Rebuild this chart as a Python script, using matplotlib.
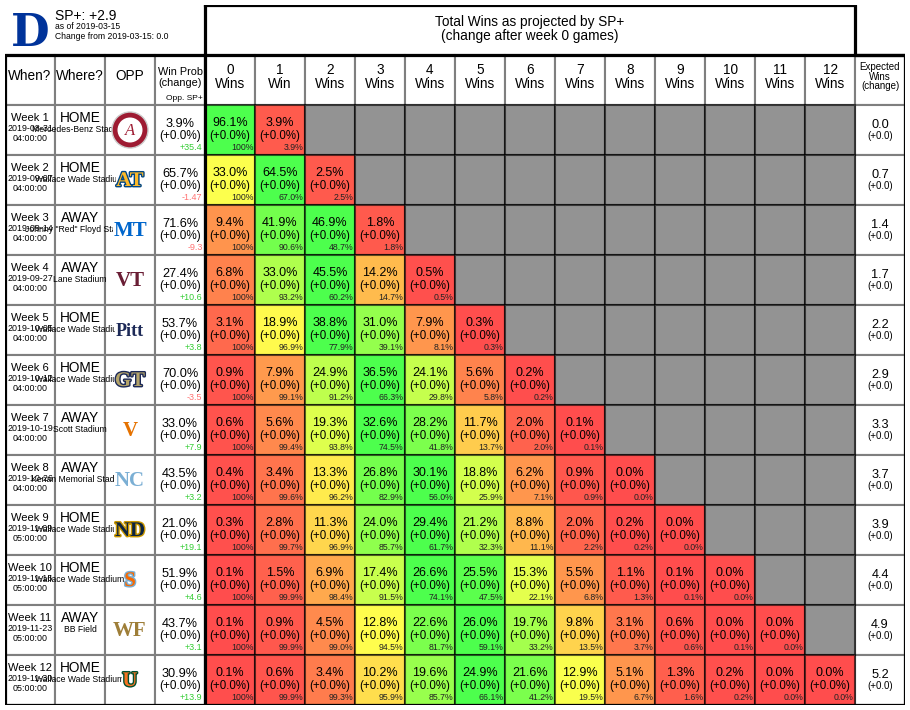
import matplotlib.pyplot as plt
import matplotlib.patheffects as pe
from matplotlib.colors import LinearSegmentedColormap
from matplotlib.patches import Rectangle, Circle

plt.rcParams["font.family"] = ["Liberation Sans", "DejaVu Sans"]

# ---- data ----
WEEKS = [f"Week {i}" for i in range(1, 13)]
DATES = ["2019-08-31", "2019-09-07", "2019-09-14", "2019-09-27", "2019-10-05", "2019-10-12",
         "2019-10-19", "2019-10-26", "2019-11-09", "2019-11-16", "2019-11-23", "2019-11-30"]
TIMES = ["04:00:00"] * 8 + ["05:00:00"] * 4
WHERE = ["HOME", "HOME", "AWAY", "AWAY", "HOME", "HOME",
         "AWAY", "AWAY", "HOME", "HOME", "AWAY", "HOME"]
STADIUMS = ["Mercedes-Benz Stadium", "Wallace Wade Stadium", "Johnny \"Red\" Floyd Stadium",
            "Lane Stadium", "Wallace Wade Stadium", "Wallace Wade Stadium", "Scott Stadium",
            "Kenan Memorial Stadium", "Wallace Wade Stadium", "Wallace Wade Stadium",
            "BB Field", "Wallace Wade Stadium"]
OPP_MARK = ["A", "AT", "MT", "VT", "Pitt", "GT", "V", "NC", "ND", "S", "WF", "U"]
OPP_COLOR = ["#9e1b32", "#fdb927", "#0066cc", "#6a1e35", "#1c2957", "#b3a369",
             "#e57200", "#7bafd4", "#0c2340", "#f76900", "#9e7e38", "#f47321"]
OPP_EDGE = [None, "#004684", None, None, None, "#1c2957",
            None, None, "#c99700", "#7bafd4", None, "#005030"]
WIN_PROB = [3.9, 65.7, 71.6, 27.4, 53.7, 70.0, 33.0, 43.5, 21.0, 51.9, 43.7, 30.9]
OPP_SP = ["+35.4", "-1.47", "-9.3", "+10.6", "+3.8", "-3.5",
          "+7.9", "+3.2", "+19.1", "+4.6", "+3.1", "+13.9"]

WIN_DIST = [
    [96.1, 3.9],
    [33.0, 64.5, 2.5],
    [9.4, 41.9, 46.9, 1.8],
    [6.8, 33.0, 45.5, 14.2, 0.5],
    [3.1, 18.9, 38.8, 31.0, 7.9, 0.3],
    [0.9, 7.9, 24.9, 36.5, 24.1, 5.6, 0.2],
    [0.6, 5.6, 19.3, 32.6, 28.2, 11.7, 2.0, 0.1],
    [0.4, 3.4, 13.3, 26.8, 30.1, 18.8, 6.2, 0.9, 0.0],
    [0.3, 2.8, 11.3, 24.0, 29.4, 21.2, 8.8, 2.0, 0.2, 0.0],
    [0.1, 1.5, 6.9, 17.4, 26.6, 25.5, 15.3, 5.5, 1.1, 0.1, 0.0],
    [0.1, 0.9, 4.5, 12.8, 22.6, 26.0, 19.7, 9.8, 3.1, 0.6, 0.0, 0.0],
    [0.1, 0.6, 3.4, 10.2, 19.6, 24.9, 21.6, 12.9, 5.1, 1.3, 0.2, 0.0, 0.0],
]
AT_LEAST = [
    ["100%", "3.9%"],
    ["100%", "67.0%", "2.5%"],
    ["100%", "90.6%", "48.7%", "1.8%"],
    ["100%", "93.2%", "60.2%", "14.7%", "0.5%"],
    ["100%", "96.9%", "77.9%", "39.1%", "8.1%", "0.3%"],
    ["100%", "99.1%", "91.2%", "66.3%", "29.8%", "5.8%", "0.2%"],
    ["100%", "99.4%", "93.8%", "74.5%", "41.8%", "13.7%", "2.0%", "0.1%"],
    ["100%", "99.6%", "96.2%", "82.9%", "56.0%", "25.9%", "7.1%", "0.9%", "0.0%"],
    ["100%", "99.7%", "96.9%", "85.7%", "61.7%", "32.3%", "11.1%", "2.2%", "0.2%", "0.0%"],
    ["100%", "99.9%", "98.4%", "91.5%", "74.1%", "47.5%", "22.1%", "6.8%", "1.3%", "0.1%", "0.0%"],
    ["100%", "99.9%", "99.0%", "94.5%", "81.7%", "59.1%", "33.2%", "13.5%", "3.7%", "0.6%",
     "0.1%", "0.0%"],
    ["100%", "99.9%", "99.3%", "95.9%", "85.7%", "66.1%", "41.2%", "19.5%", "6.7%", "1.6%",
     "0.2%", "0.0%", "0.0%"],
]
EXP_WINS = [0.0, 0.7, 1.4, 1.7, 2.2, 2.9, 3.3, 3.7, 3.9, 4.4, 4.9, 5.2]
WIN_HEADERS = ["0\nWins", "1\nWin"] + [f"{k}\nWins" for k in range(2, 13)]
LEFT_HEADERS = ["When?", "Where?", "OPP"]

cmap = LinearSegmentedColormap.from_list("ryg", ["#ff4d4d", "#ffff4d", "#4dff4d"])
GREY_LINE = "#7f7f7f"
DARK_LINE = (0, 0, 0, 0.62)

fig = plt.figure(figsize=(9.1, 7.1), dpi=100)
ax = fig.add_axes([5 / 910, 5 / 710, 900 / 910, 700 / 710])
ax.set_xlim(0, 18)
ax.set_ylim(14, 0)
ax.axis("off")

# header row + left/right white cells with grey grid
for c in range(18):
    ax.add_patch(Rectangle((c, 1), 1, 1, fc="white", ec=GREY_LINE, lw=1.5, zorder=1))
for r in range(12):
    y0 = r + 2
    for c in list(range(4)) + [17]:
        ax.add_patch(Rectangle((c, y0), 1, 1, fc="white", ec=GREY_LINE, lw=1.5, zorder=1))

# win distribution cells
for r, row in enumerate(WIN_DIST):
    y0 = r + 2
    top = max(row)
    for c in range(13):
        x0 = c + 4
        if c < len(row):
            fc = cmap(row[c] / top)
        else:
            fc = "#939393"
        ax.add_patch(Rectangle((x0, y0), 1, 1, fc=fc, ec=DARK_LINE, lw=1.5, zorder=2))
        if c < len(row):
            ax.text(x0 + 0.5, y0 + 0.37, f"{row[c]:.1f}%", ha="center", va="center",
                    fontsize=9, zorder=5)
            ax.text(x0 + 0.5, y0 + 0.61, "(+0.0%)", ha="center", va="center",
                    fontsize=8.3, zorder=5)
            ax.text(x0 + 0.97, y0 + 0.84, AT_LEAST[r][c], ha="right", va="center",
                    fontsize=6.3, color="#222222", zorder=5)

# headers
for c, lab in enumerate(LEFT_HEADERS):
    ax.text(c + 0.5, 1.42, lab, ha="center", va="center", fontsize=9.8)
ax.text(3.5, 1.45, "Win Prob\n(change)", ha="center", va="center", fontsize=7.8,
        linespacing=1.1)
ax.text(3.96, 1.87, "Opp. SP+", ha="right", va="center", fontsize=6)
for c, lab in enumerate(WIN_HEADERS):
    ax.text(c + 4.5, 1.43, lab, ha="center", va="center", fontsize=9.8, linespacing=1.0)
ax.text(17.5, 1.43, "Expected\nWins\n(change)", ha="center", va="center", fontsize=7,
        linespacing=0.95)

# left part of each row
for r in range(12):
    y0 = r + 2
    ax.text(0.5, y0 + 0.26, WEEKS[r], ha="center", va="center", fontsize=8)
    ax.text(0.5, y0 + 0.47, DATES[r], ha="center", va="center", fontsize=6.4)
    ax.text(0.5, y0 + 0.67, TIMES[r], ha="center", va="center", fontsize=6.4)
    ax.text(1.5, y0 + 0.25, WHERE[r], ha="center", va="center", fontsize=9.8)
    ax.text(1.5, y0 + 0.48, STADIUMS[r], ha="center", va="center", fontsize=6.2, zorder=3)

    # opponent mark (stand-in for the logo)
    if r == 0:
        ax.add_patch(Circle((2.5, y0 + 0.5), 0.36, fc=OPP_COLOR[r], ec="#cccccc", lw=1,
                            zorder=4))
        ax.add_patch(Circle((2.5, y0 + 0.5), 0.25, fc="white", ec="none", zorder=4))
        ax.text(2.5, y0 + 0.52, OPP_MARK[r], ha="center", va="center", fontsize=12,
                family="Liberation Serif", style="italic", color=OPP_COLOR[r], zorder=5)
    else:
        size = 15 if len(OPP_MARK[r]) <= 2 else 13
        t = ax.text(2.5, y0 + 0.52, OPP_MARK[r], ha="center", va="center", fontsize=size,
                    family="Liberation Serif", weight="bold", color=OPP_COLOR[r],
                    bbox=dict(fc="white", ec="none", pad=0.5), zorder=5)
        if OPP_EDGE[r]:
            t.set_path_effects([pe.withStroke(linewidth=2, foreground=OPP_EDGE[r])])

    ax.text(3.5, y0 + 0.38, f"{WIN_PROB[r]:.1f}%", ha="center", va="center", fontsize=9.2)
    ax.text(3.5, y0 + 0.61, "(+0.0%)", ha="center", va="center", fontsize=8.5)
    sp_col = "#33cc33" if OPP_SP[r].startswith("+") else "#ff7373"
    ax.text(3.95, y0 + 0.84, OPP_SP[r], ha="right", va="center", fontsize=6.4, color=sp_col)

    ax.text(17.5, y0 + 0.39, f"{EXP_WINS[r]:.1f}", ha="center", va="center", fontsize=9.2)
    ax.text(17.5, y0 + 0.62, "(+0.0)", ha="center", va="center", fontsize=7)

# thick borders
THICK = dict(color="black", lw=2.3, zorder=6, solid_capstyle="projecting")
ax.plot([4, 17, 17, 18, 18, 0, 0, 4], [0, 0, 1, 1, 14, 14, 1, 1], **THICK)
ax.plot([4, 4], [0, 14], **THICK)
ax.plot([4, 18], [1, 1], **THICK)

# title box
ax.text(10.5, 0.48, "Total Wins as projected by SP+\n(change after week 0 games)",
        ha="center", va="center", fontsize=9.8, linespacing=1.0)

# top-left team block
ax.text(0.5, 0.82, "D", ha="center", va="baseline", fontsize=32, weight="bold",
        family="DejaVu Serif", color="#00339a")
ax.text(1.0, 0.3, "SP+: +2.9", ha="left", va="baseline", fontsize=10)
ax.text(1.0, 0.48, "as of 2019-03-15", ha="left", va="baseline", fontsize=6.2)
ax.text(1.0, 0.68, "Change from 2019-03-15: 0.0", ha="left", va="baseline", fontsize=6.2)

fig.savefig("out.png", dpi=100, facecolor="white")
